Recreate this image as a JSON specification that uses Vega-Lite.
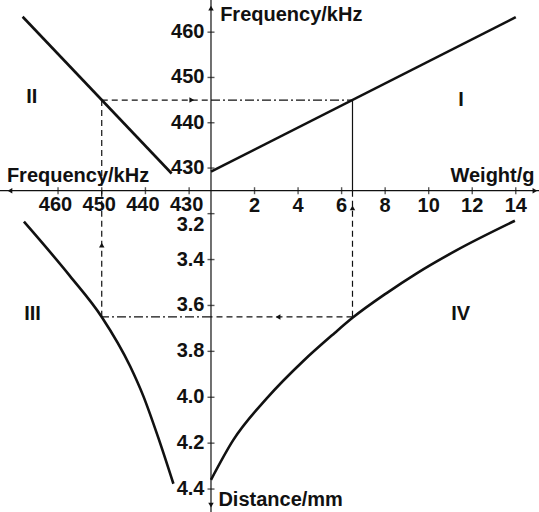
{
  "$schema": "https://vega.github.io/schema/vega-lite/v6.json",
  "width": 539,
  "height": 512,
  "autosize": "none",
  "padding": 0,
  "background": "white",
  "config": {
    "view": {"stroke": null},
    "text": {"font": "Liberation Sans", "fontWeight": "bold", "fontSize": 20, "color": "#111"},
    "rule": {"color": "#111"},
    "tick": {"color": "#111"}
  },
  "datasets": {
    "origin_weight": [{"weight": 0}],
    "origin_distance": [{"distance": 3.1}],
    "weight_ticks": [{"weight": 2}, {"weight": 4}, {"weight": 6}, {"weight": 8}, {"weight": 10}, {"weight": 12}, {"weight": 14}],
    "freq_ticks": [{"freq": 430}, {"freq": 440}, {"freq": 450}, {"freq": 460}],
    "freq_h_ticks": [{"freq_h": 430}, {"freq_h": 440}, {"freq_h": 450}, {"freq_h": 460}],
    "distance_ticks": [{"distance": 3.2}, {"distance": 3.4}, {"distance": 3.6}, {"distance": 3.8}, {"distance": 4.0}, {"distance": 4.2}, {"distance": 4.4}],
    "q1_curve": [{"weight": 0, "freq": 429.2}, {"weight": 14, "freq": 463.3}],
    "q1_guide_dashdot": [{"weight": 0, "weight_end": 6.5, "freq": 445, "freq_end": 445}],
    "q1_guide_solid": [{"weight": 6.5, "weight_end": 6.5, "freq": 445, "freq_end": 425}],
    "q1_arrows_up": [{"weight": 0, "freq": 465.3}],
    "q1_arrows_right": [{"weight": 14.88, "freq": 425}],
    "q1_text": [
      {"weight": 11.48, "freq": 445, "label": "I"}
    ],
    "q1_titles": [
      {"weight": 0.42, "freq": 462.5, "label": "Frequency/kHz"},
      {"weight": 11.0, "freq": 426.9, "label": "Weight/g"}
    ],
    "q2_curve": [{"freq_h": 468.1, "freq": 463.4}, {"freq_h": 434.0, "freq": 428.8}],
    "q2_guide": [
      {"freq_h": 450, "freq_h_end": 425, "freq": 445, "freq_end": 445},
      {"freq_h": 450, "freq_h_end": 450, "freq": 445, "freq_end": 425}
    ],
    "q2_arrows_right": [{"freq_h": 429.4, "freq": 445}],
    "q2_arrows_left": [{"freq_h": 471.0, "freq": 425}],
    "q2_text": [{"freq_h": 466.0, "freq": 445.6, "label": "II"}],
    "q2_titles": [{"freq_h": 471.7, "freq": 426.9, "label": "Frequency/kHz"}],
    "q3_curve": [
      {"freq_h": 467.8, "distance": 3.235},
      {"freq_h": 457.3, "distance": 3.471},
      {"freq_h": 450.0, "distance": 3.65},
      {"freq_h": 443.5, "distance": 3.865},
      {"freq_h": 440.5, "distance": 3.994},
      {"freq_h": 437.1, "distance": 4.174},
      {"freq_h": 433.6, "distance": 4.377}
    ],
    "q3_guide_dashed": [{"freq_h": 450, "freq_h_end": 450, "distance": 3.1, "distance_end": 3.65}],
    "q3_guide_dashdot": [{"freq_h": 425, "freq_h_end": 450, "distance": 3.65, "distance_end": 3.65}],
    "q3_arrows_up": [{"freq_h": 450, "distance": 3.337}],
    "q3_text": [{"freq_h": 465.85, "distance": 3.637, "label": "III"}],
    "q4_curve": [
      {"weight": 0, "distance": 4.36},
      {"weight": 1.02, "distance": 4.187},
      {"weight": 2.56, "distance": 4.005},
      {"weight": 4.24, "distance": 3.842},
      {"weight": 5.62, "distance": 3.725},
      {"weight": 6.5, "distance": 3.654},
      {"weight": 8.07, "distance": 3.546},
      {"weight": 9.45, "distance": 3.46},
      {"weight": 11.29, "distance": 3.359},
      {"weight": 13.96, "distance": 3.231}
    ],
    "q4_guide": [
      {"weight": 6.5, "weight_end": 6.5, "distance": 3.1, "distance_end": 3.65},
      {"weight": 6.5, "weight_end": 0, "distance": 3.65, "distance_end": 3.65}
    ],
    "q4_arrows_up": [{"weight": 6.5, "distance": 3.175}],
    "q4_arrows_left": [{"weight": 3.08, "distance": 3.65}],
    "q4_arrows_down": [{"weight": 0, "distance": 4.47}],
    "q4_text": [{"weight": 11.47, "distance": 3.637, "label": "IV"}],
    "q4_titles": [{"weight": 0.34, "distance": 4.472, "label": "Distance/mm"}]
  },
  "resolve": {"scale": {"x": "independent", "y": "independent"}},
  "layer": [
    {
      "layer": [
        {
          "data": {"name": "freq_ticks"},
          "mark": {"type": "tick", "orient": "horizontal", "size": 7, "thickness": 1.4},
          "encoding": {
            "x": {"datum": 0, "type": "quantitative", "scale": {"domain": [-9.692, 15.067], "nice": false, "zero": false}, "axis": null},
            "y": {"field": "freq", "type": "quantitative", "scale": {"domain": [354.07, 467.1], "nice": false, "zero": false}, "axis": null}
          }
        },
        {
          "data": {"name": "freq_ticks"},
          "mark": {"type": "text", "align": "right", "baseline": "middle", "dx": -6.5},
          "encoding": {
            "x": {"datum": 0, "type": "quantitative", "scale": {"domain": [-9.692, 15.067], "nice": false, "zero": false}, "axis": null},
            "y": {"field": "freq", "type": "quantitative", "scale": {"domain": [354.07, 467.1], "nice": false, "zero": false}, "axis": null},
            "text": {"field": "freq", "format": "d"}
          }
        },
        {
          "data": {"name": "q1_curve"},
          "mark": {"type": "line", "strokeWidth": 2.6, "color": "#111"},
          "encoding": {
            "x": {"field": "weight", "type": "quantitative", "scale": {"domain": [-9.692, 15.067], "nice": false, "zero": false}, "axis": null},
            "y": {"field": "freq", "type": "quantitative", "scale": {"domain": [354.07, 467.1], "nice": false, "zero": false}, "axis": null}
          }
        },
        {
          "data": {"name": "q1_guide_dashdot"},
          "mark": {"type": "rule", "strokeWidth": 1.2, "strokeDash": [9, 3, 2, 3]},
          "encoding": {
            "x": {"field": "weight", "type": "quantitative", "scale": {"domain": [-9.692, 15.067], "nice": false, "zero": false}, "axis": null},
            "x2": {"field": "weight_end"},
            "y": {"field": "freq", "type": "quantitative", "scale": {"domain": [354.07, 467.1], "nice": false, "zero": false}, "axis": null},
            "y2": {"field": "freq_end"}
          }
        },
        {
          "data": {"name": "q1_guide_solid"},
          "mark": {"type": "rule", "strokeWidth": 1.2},
          "encoding": {
            "x": {"field": "weight", "type": "quantitative", "scale": {"domain": [-9.692, 15.067], "nice": false, "zero": false}, "axis": null},
            "x2": {"field": "weight_end"},
            "y": {"field": "freq", "type": "quantitative", "scale": {"domain": [354.07, 467.1], "nice": false, "zero": false}, "axis": null},
            "y2": {"field": "freq_end"}
          }
        },
        {
          "data": {"name": "q1_arrows_up"},
          "mark": {"type": "point", "shape": "triangle-up", "filled": true, "size": 30, "color": "#111", "opacity": 1},
          "encoding": {
            "x": {"field": "weight", "type": "quantitative", "scale": {"domain": [-9.692, 15.067], "nice": false, "zero": false}, "axis": null},
            "y": {"field": "freq", "type": "quantitative", "scale": {"domain": [354.07, 467.1], "nice": false, "zero": false}, "axis": null}
          }
        },
        {
          "data": {"name": "q1_arrows_right"},
          "mark": {"type": "point", "shape": "triangle-right", "filled": true, "size": 30, "color": "#111", "opacity": 1},
          "encoding": {
            "x": {"field": "weight", "type": "quantitative", "scale": {"domain": [-9.692, 15.067], "nice": false, "zero": false}, "axis": null},
            "y": {"field": "freq", "type": "quantitative", "scale": {"domain": [354.07, 467.1], "nice": false, "zero": false}, "axis": null}
          }
        },
        {
          "data": {"name": "q1_text"},
          "mark": {"type": "text", "fontSize": 20},
          "encoding": {
            "x": {"field": "weight", "type": "quantitative", "scale": {"domain": [-9.692, 15.067], "nice": false, "zero": false}, "axis": null},
            "y": {"field": "freq", "type": "quantitative", "scale": {"domain": [354.07, 467.1], "nice": false, "zero": false}, "axis": null},
            "text": {"field": "label"}
          }
        },
        {
          "data": {"name": "q1_titles"},
          "mark": {"type": "text", "align": "left", "baseline": "alphabetic"},
          "encoding": {
            "x": {"field": "weight", "type": "quantitative", "scale": {"domain": [-9.692, 15.067], "nice": false, "zero": false}, "axis": null},
            "y": {"field": "freq", "type": "quantitative", "scale": {"domain": [354.07, 467.1], "nice": false, "zero": false}, "axis": null},
            "text": {"field": "label"}
          }
        }
      ]
    },
    {
      "layer": [
        {
          "data": {"name": "freq_h_ticks"},
          "mark": {"type": "tick", "orient": "vertical", "size": 7, "thickness": 1.4},
          "encoding": {
            "x": {"field": "freq_h", "type": "quantitative", "scale": {"domain": [349.94, 473.28], "reverse": true, "nice": false, "zero": false}, "axis": null},
            "y": {"datum": 425, "type": "quantitative", "scale": {"domain": [354.07, 467.1], "nice": false, "zero": false}, "axis": null}
          }
        },
        {
          "data": {"name": "freq_h_ticks"},
          "mark": {"type": "text", "align": "center", "baseline": "middle", "dy": 14.5, "dx": -2.5},
          "encoding": {
            "x": {"field": "freq_h", "type": "quantitative", "scale": {"domain": [349.94, 473.28], "reverse": true, "nice": false, "zero": false}, "axis": null},
            "y": {"datum": 425, "type": "quantitative", "scale": {"domain": [354.07, 467.1], "nice": false, "zero": false}, "axis": null},
            "text": {"field": "freq_h", "format": "d"}
          }
        },
        {
          "data": {"name": "q2_curve"},
          "mark": {"type": "line", "strokeWidth": 2.6, "color": "#111"},
          "encoding": {
            "x": {"field": "freq_h", "type": "quantitative", "scale": {"domain": [349.94, 473.28], "reverse": true, "nice": false, "zero": false}, "axis": null},
            "y": {"field": "freq", "type": "quantitative", "scale": {"domain": [354.07, 467.1], "nice": false, "zero": false}, "axis": null}
          }
        },
        {
          "data": {"name": "q2_guide"},
          "mark": {"type": "rule", "strokeWidth": 1.2, "strokeDash": [6, 4]},
          "encoding": {
            "x": {"field": "freq_h", "type": "quantitative", "scale": {"domain": [349.94, 473.28], "reverse": true, "nice": false, "zero": false}, "axis": null},
            "x2": {"field": "freq_h_end"},
            "y": {"field": "freq", "type": "quantitative", "scale": {"domain": [354.07, 467.1], "nice": false, "zero": false}, "axis": null},
            "y2": {"field": "freq_end"}
          }
        },
        {
          "data": {"name": "q2_arrows_right"},
          "mark": {"type": "point", "shape": "triangle-right", "filled": true, "size": 30, "color": "#111", "opacity": 1},
          "encoding": {
            "x": {"field": "freq_h", "type": "quantitative", "scale": {"domain": [349.94, 473.28], "reverse": true, "nice": false, "zero": false}, "axis": null},
            "y": {"field": "freq", "type": "quantitative", "scale": {"domain": [354.07, 467.1], "nice": false, "zero": false}, "axis": null}
          }
        },
        {
          "data": {"name": "q2_arrows_left"},
          "mark": {"type": "point", "shape": "triangle-left", "filled": true, "size": 30, "color": "#111", "opacity": 1},
          "encoding": {
            "x": {"field": "freq_h", "type": "quantitative", "scale": {"domain": [349.94, 473.28], "reverse": true, "nice": false, "zero": false}, "axis": null},
            "y": {"field": "freq", "type": "quantitative", "scale": {"domain": [354.07, 467.1], "nice": false, "zero": false}, "axis": null}
          }
        },
        {
          "data": {"name": "q2_text"},
          "mark": {"type": "text", "fontSize": 20},
          "encoding": {
            "x": {"field": "freq_h", "type": "quantitative", "scale": {"domain": [349.94, 473.28], "reverse": true, "nice": false, "zero": false}, "axis": null},
            "y": {"field": "freq", "type": "quantitative", "scale": {"domain": [354.07, 467.1], "nice": false, "zero": false}, "axis": null},
            "text": {"field": "label"}
          }
        },
        {
          "data": {"name": "q2_titles"},
          "mark": {"type": "text", "align": "left", "baseline": "alphabetic"},
          "encoding": {
            "x": {"field": "freq_h", "type": "quantitative", "scale": {"domain": [349.94, 473.28], "reverse": true, "nice": false, "zero": false}, "axis": null},
            "y": {"field": "freq", "type": "quantitative", "scale": {"domain": [354.07, 467.1], "nice": false, "zero": false}, "axis": null},
            "text": {"field": "label"}
          }
        }
      ]
    },
    {
      "layer": [
        {
          "data": {"name": "q3_curve"},
          "mark": {"type": "line", "strokeWidth": 2.6, "color": "#111", "interpolate": "monotone"},
          "encoding": {
            "x": {"field": "freq_h", "type": "quantitative", "scale": {"domain": [349.94, 473.28], "reverse": true, "nice": false, "zero": false}, "axis": null},
            "y": {"field": "distance", "type": "quantitative", "scale": {"domain": [2.269, 4.5], "reverse": true, "nice": false, "zero": false}, "axis": null}
          }
        },
        {
          "data": {"name": "q3_guide_dashed"},
          "mark": {"type": "rule", "strokeWidth": 1.2, "strokeDash": [6, 4]},
          "encoding": {
            "x": {"field": "freq_h", "type": "quantitative", "scale": {"domain": [349.94, 473.28], "reverse": true, "nice": false, "zero": false}, "axis": null},
            "x2": {"field": "freq_h_end"},
            "y": {"field": "distance", "type": "quantitative", "scale": {"domain": [2.269, 4.5], "reverse": true, "nice": false, "zero": false}, "axis": null},
            "y2": {"field": "distance_end"}
          }
        },
        {
          "data": {"name": "q3_guide_dashdot"},
          "mark": {"type": "rule", "strokeWidth": 1.2, "strokeDash": [9, 3, 2, 3]},
          "encoding": {
            "x": {"field": "freq_h", "type": "quantitative", "scale": {"domain": [349.94, 473.28], "reverse": true, "nice": false, "zero": false}, "axis": null},
            "x2": {"field": "freq_h_end"},
            "y": {"field": "distance", "type": "quantitative", "scale": {"domain": [2.269, 4.5], "reverse": true, "nice": false, "zero": false}, "axis": null},
            "y2": {"field": "distance_end"}
          }
        },
        {
          "data": {"name": "q3_arrows_up"},
          "mark": {"type": "point", "shape": "triangle-up", "filled": true, "size": 30, "color": "#111", "opacity": 1},
          "encoding": {
            "x": {"field": "freq_h", "type": "quantitative", "scale": {"domain": [349.94, 473.28], "reverse": true, "nice": false, "zero": false}, "axis": null},
            "y": {"field": "distance", "type": "quantitative", "scale": {"domain": [2.269, 4.5], "reverse": true, "nice": false, "zero": false}, "axis": null}
          }
        },
        {
          "data": {"name": "q3_text"},
          "mark": {"type": "text", "fontSize": 20},
          "encoding": {
            "x": {"field": "freq_h", "type": "quantitative", "scale": {"domain": [349.94, 473.28], "reverse": true, "nice": false, "zero": false}, "axis": null},
            "y": {"field": "distance", "type": "quantitative", "scale": {"domain": [2.269, 4.5], "reverse": true, "nice": false, "zero": false}, "axis": null},
            "text": {"field": "label"}
          }
        }
      ]
    },
    {
      "layer": [
        {
          "data": {"name": "origin_distance"},
          "mark": {"type": "rule", "strokeWidth": 1.2},
          "encoding": {
            "y": {"field": "distance", "type": "quantitative", "scale": {"domain": [2.269, 4.5], "reverse": true, "nice": false, "zero": false}, "axis": null}
          }
        },
        {
          "data": {"name": "origin_weight"},
          "mark": {"type": "rule", "strokeWidth": 1.2},
          "encoding": {
            "x": {"field": "weight", "type": "quantitative", "scale": {"domain": [-9.692, 15.067], "nice": false, "zero": false}, "axis": null}
          }
        },
        {
          "data": {"name": "weight_ticks"},
          "mark": {"type": "tick", "orient": "vertical", "size": 7, "thickness": 1.4},
          "encoding": {
            "x": {"field": "weight", "type": "quantitative", "scale": {"domain": [-9.692, 15.067], "nice": false, "zero": false}, "axis": null},
            "y": {"datum": 3.1, "type": "quantitative", "scale": {"domain": [2.269, 4.5], "reverse": true, "nice": false, "zero": false}, "axis": null}
          }
        },
        {
          "data": {"name": "weight_ticks"},
          "mark": {"type": "text", "align": "center", "baseline": "middle", "dy": 15.5},
          "encoding": {
            "x": {"field": "weight", "type": "quantitative", "scale": {"domain": [-9.692, 15.067], "nice": false, "zero": false}, "axis": null},
            "y": {"datum": 3.1, "type": "quantitative", "scale": {"domain": [2.269, 4.5], "reverse": true, "nice": false, "zero": false}, "axis": null},
            "text": {"field": "weight", "format": "d"}
          }
        },
        {
          "data": {"name": "distance_ticks"},
          "mark": {"type": "tick", "orient": "horizontal", "size": 7, "thickness": 1.4},
          "encoding": {
            "x": {"datum": 0, "type": "quantitative", "scale": {"domain": [-9.692, 15.067], "nice": false, "zero": false}, "axis": null},
            "y": {"field": "distance", "type": "quantitative", "scale": {"domain": [2.269, 4.5], "reverse": true, "nice": false, "zero": false}, "axis": null}
          }
        },
        {
          "data": {"name": "distance_ticks"},
          "transform": [{"filter": "datum.distance > 3.3"}],
          "mark": {"type": "text", "align": "right", "baseline": "middle", "dx": -6.5},
          "encoding": {
            "x": {"datum": 0, "type": "quantitative", "scale": {"domain": [-9.692, 15.067], "nice": false, "zero": false}, "axis": null},
            "y": {"field": "distance", "type": "quantitative", "scale": {"domain": [2.269, 4.5], "reverse": true, "nice": false, "zero": false}, "axis": null},
            "text": {"field": "distance", "format": ".1f"}
          }
        },
        {
          "data": {"name": "distance_ticks"},
          "transform": [{"filter": "datum.distance < 3.3"}],
          "mark": {"type": "text", "align": "right", "baseline": "middle", "dx": -6.5, "dy": 11.5},
          "encoding": {
            "x": {"datum": 0, "type": "quantitative", "scale": {"domain": [-9.692, 15.067], "nice": false, "zero": false}, "axis": null},
            "y": {"field": "distance", "type": "quantitative", "scale": {"domain": [2.269, 4.5], "reverse": true, "nice": false, "zero": false}, "axis": null},
            "text": {"field": "distance", "format": ".1f"}
          }
        },
        {
          "data": {"name": "q4_curve"},
          "mark": {"type": "line", "strokeWidth": 2.6, "color": "#111", "interpolate": "monotone"},
          "encoding": {
            "x": {"field": "weight", "type": "quantitative", "scale": {"domain": [-9.692, 15.067], "nice": false, "zero": false}, "axis": null},
            "y": {"field": "distance", "type": "quantitative", "scale": {"domain": [2.269, 4.5], "reverse": true, "nice": false, "zero": false}, "axis": null}
          }
        },
        {
          "data": {"name": "q4_guide"},
          "mark": {"type": "rule", "strokeWidth": 1.2, "strokeDash": [6, 4]},
          "encoding": {
            "x": {"field": "weight", "type": "quantitative", "scale": {"domain": [-9.692, 15.067], "nice": false, "zero": false}, "axis": null},
            "x2": {"field": "weight_end"},
            "y": {"field": "distance", "type": "quantitative", "scale": {"domain": [2.269, 4.5], "reverse": true, "nice": false, "zero": false}, "axis": null},
            "y2": {"field": "distance_end"}
          }
        },
        {
          "data": {"name": "q4_arrows_up"},
          "mark": {"type": "point", "shape": "triangle-up", "filled": true, "size": 30, "color": "#111", "opacity": 1},
          "encoding": {
            "x": {"field": "weight", "type": "quantitative", "scale": {"domain": [-9.692, 15.067], "nice": false, "zero": false}, "axis": null},
            "y": {"field": "distance", "type": "quantitative", "scale": {"domain": [2.269, 4.5], "reverse": true, "nice": false, "zero": false}, "axis": null}
          }
        },
        {
          "data": {"name": "q4_arrows_left"},
          "mark": {"type": "point", "shape": "triangle-left", "filled": true, "size": 30, "color": "#111", "opacity": 1},
          "encoding": {
            "x": {"field": "weight", "type": "quantitative", "scale": {"domain": [-9.692, 15.067], "nice": false, "zero": false}, "axis": null},
            "y": {"field": "distance", "type": "quantitative", "scale": {"domain": [2.269, 4.5], "reverse": true, "nice": false, "zero": false}, "axis": null}
          }
        },
        {
          "data": {"name": "q4_arrows_down"},
          "mark": {"type": "point", "shape": "triangle-down", "filled": true, "size": 30, "color": "#111", "opacity": 1},
          "encoding": {
            "x": {"field": "weight", "type": "quantitative", "scale": {"domain": [-9.692, 15.067], "nice": false, "zero": false}, "axis": null},
            "y": {"field": "distance", "type": "quantitative", "scale": {"domain": [2.269, 4.5], "reverse": true, "nice": false, "zero": false}, "axis": null}
          }
        },
        {
          "data": {"name": "q4_text"},
          "mark": {"type": "text", "fontSize": 20},
          "encoding": {
            "x": {"field": "weight", "type": "quantitative", "scale": {"domain": [-9.692, 15.067], "nice": false, "zero": false}, "axis": null},
            "y": {"field": "distance", "type": "quantitative", "scale": {"domain": [2.269, 4.5], "reverse": true, "nice": false, "zero": false}, "axis": null},
            "text": {"field": "label"}
          }
        },
        {
          "data": {"name": "q4_titles"},
          "mark": {"type": "text", "align": "left", "baseline": "alphabetic"},
          "encoding": {
            "x": {"field": "weight", "type": "quantitative", "scale": {"domain": [-9.692, 15.067], "nice": false, "zero": false}, "axis": null},
            "y": {"field": "distance", "type": "quantitative", "scale": {"domain": [2.269, 4.5], "reverse": true, "nice": false, "zero": false}, "axis": null},
            "text": {"field": "label"}
          }
        }
      ]
    }
  ]
}
